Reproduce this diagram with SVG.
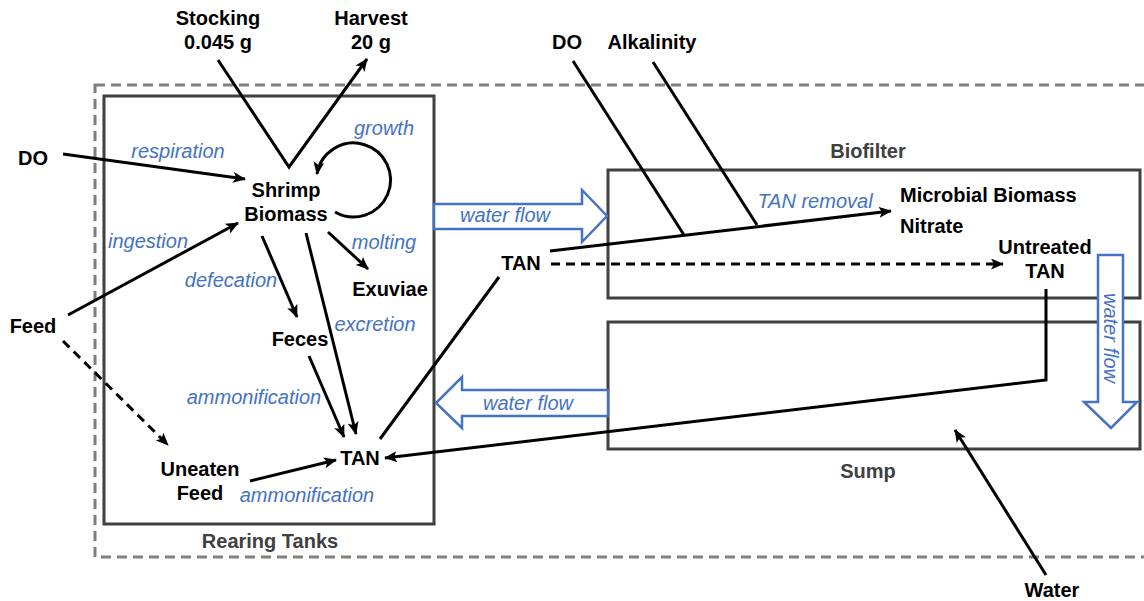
<svg xmlns="http://www.w3.org/2000/svg" width="1144" height="601" viewBox="0 0 1144 601">
<style>
.lbl{font-family:"Liberation Sans",Arial,sans-serif;font-weight:bold;font-size:20px;fill:#000;text-anchor:middle}
.sec{font-family:"Liberation Sans",Arial,sans-serif;font-weight:bold;font-size:20px;fill:#404040;text-anchor:middle}
.proc{font-family:"Liberation Sans",Arial,sans-serif;font-style:italic;font-size:20px;fill:#4472C4;text-anchor:middle}
.box{fill:none;stroke:#404040;stroke-width:3}
.flow{fill:#fff;stroke:#4472C4;stroke-width:2.5}
.arr{fill:none;stroke:#000;stroke-width:3;marker-end:url(#ah)}
.ln{fill:none;stroke:#000;stroke-width:3}
.dash{stroke-dasharray:9,6}
</style>
<defs>
<marker id="ah" viewBox="0 0 13 11" refX="12" refY="5.5" markerWidth="13" markerHeight="11" markerUnits="userSpaceOnUse" orient="auto">
<path d="M0,0 L13,5.5 L0,11 L3,5.5 Z" fill="#000"/>
</marker>
</defs>
<rect width="1144" height="601" fill="#fff"/>
<g id="system-boundary">
<rect x="95" y="85" width="1060" height="472" fill="none" stroke="#7f7f7f" stroke-width="3" stroke-dasharray="10,6"/>
</g>
<g id="rearing-tanks">
<rect class="box" x="104" y="96" width="330" height="428"/>
<text class="sec" x="270" y="548">Rearing Tanks</text>
</g>
<g id="biofilter">
<rect class="box" x="608" y="170" width="532" height="128"/>
<text class="sec" x="868" y="158">Biofilter</text>
</g>
<g id="sump">
<rect class="box" x="608" y="322" width="532" height="127"/>
<text class="sec" x="868" y="478">Sump</text>
</g>
<g id="flow-arrows">
<path class="flow" d="M434,204 L582,204 L582,190 L607,216 L582,242 L582,229 L434,229 Z"/>
<text class="proc" x="505" y="222">water flow</text>
<path class="flow" d="M608,390 L462,390 L462,377 L436,403 L462,428 L462,416 L608,416 Z"/>
<text class="proc" x="528" y="410">water flow</text>
<path class="flow" d="M1098,255 L1123,255 L1123,402 L1137,402 L1111,428 L1084,402 L1098,402 Z"/>
<text class="proc" transform="translate(1104,338) rotate(90)" x="0" y="0">water flow</text>
</g>
<g id="connectors">
<polyline class="arr" points="218,60 289,167 367,59"/>
<line class="arr" x1="63" y1="154" x2="245" y2="179"/>
<line class="arr" x1="68" y1="315" x2="238" y2="223"/>
<path class="arr" d="M335,212 A37,37 0 1 0 317,174"/>
<line class="arr" x1="328" y1="232" x2="368" y2="269"/>
<line class="arr" x1="262" y1="236" x2="297" y2="317"/>
<line class="arr" x1="306" y1="233" x2="356" y2="434"/>
<line class="arr" x1="309" y1="356" x2="344" y2="437"/>
<line class="arr dash" x1="63" y1="341" x2="168" y2="445"/>
<line class="arr" x1="250" y1="481" x2="336" y2="460"/>
<line class="ln" x1="380" y1="439" x2="499" y2="277"/>
<line class="arr" x1="550" y1="251" x2="891" y2="211"/>
<line class="ln" x1="573" y1="61" x2="684" y2="235"/>
<line class="ln" x1="653" y1="62" x2="757" y2="225"/>
<line class="arr dash" x1="551" y1="264" x2="1003" y2="264"/>
<polyline class="arr" points="1046,289 1046,380 385,458"/>
<line class="arr" x1="1046" y1="575" x2="955" y2="430"/>
</g>
<g id="process-labels">
<text class="proc" x="178" y="158">respiration</text>
<text class="proc" x="384" y="135">growth</text>
<text class="proc" x="148" y="248">ingestion</text>
<text class="proc" x="384" y="249">molting</text>
<text class="proc" x="231" y="287">defecation</text>
<text class="proc" x="375" y="331">excretion</text>
<text class="proc" x="254" y="404">ammonification</text>
<text class="proc" x="307" y="502">ammonification</text>
<text class="proc" x="815" y="208">TAN removal</text>
</g>
<g id="node-stocking"><text class="lbl" x="218" y="25">Stocking</text><text class="lbl" x="218" y="49">0.045 g</text></g>
<g id="node-harvest"><text class="lbl" x="371" y="25">Harvest</text><text class="lbl" x="371" y="49">20 g</text></g>
<g id="node-do-rearing"><text class="lbl" x="33" y="165">DO</text></g>
<g id="node-feed"><text class="lbl" x="33" y="333">Feed</text></g>
<g id="node-shrimp"><text class="lbl" x="286" y="197">Shrimp</text><text class="lbl" x="286" y="221">Biomass</text></g>
<g id="node-exuviae"><text class="lbl" x="390" y="296">Exuviae</text></g>
<g id="node-feces"><text class="lbl" x="300" y="346">Feces</text></g>
<g id="node-tan-rearing"><text class="lbl" x="360" y="465">TAN</text></g>
<g id="node-uneaten"><text class="lbl" x="200" y="476">Uneaten</text><text class="lbl" x="200" y="500">Feed</text></g>
<g id="node-do-bio"><text class="lbl" x="567" y="49">DO</text></g>
<g id="node-alkalinity"><text class="lbl" x="652" y="49">Alkalinity</text></g>
<g id="node-tan-mid"><text class="lbl" x="521" y="270">TAN</text></g>
<g id="node-microbial"><text class="lbl" x="900" y="202" style="text-anchor:start">Microbial Biomass</text></g>
<g id="node-nitrate"><text class="lbl" x="900" y="233" style="text-anchor:start">Nitrate</text></g>
<g id="node-untreated"><text class="lbl" x="1045" y="254">Untreated</text><text class="lbl" x="1045" y="278">TAN</text></g>
<g id="node-water"><text class="lbl" x="1052" y="597">Water</text></g>
</svg>
